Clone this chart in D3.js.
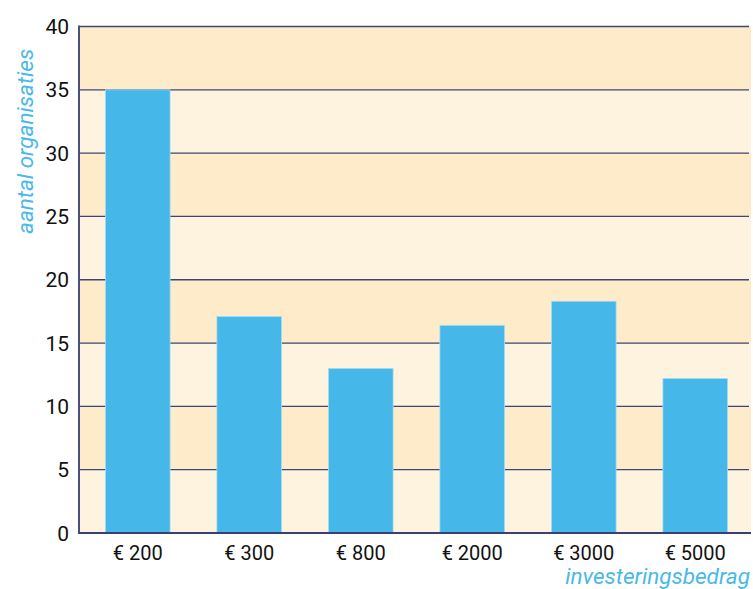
<!DOCTYPE html>
<html>
<head>
<meta charset="utf-8">
<script src="https://cdn.jsdelivr.net/npm/d3@7"></script>
<style>
  body { margin: 0; background: #fff; }
  text { font-family: Roboto, "Open Sans", sans-serif; }
</style>
</head>
<body>
<div id="chart"></div>
<script>
const categories = ['€ 200', '€ 300', '€ 800', '€ 2000', '€ 3000', '€ 5000']
const values = [35, 17.1, 13, 16.4, 18.3, 12.2]
const yTicks = [0, 5, 10, 15, 20, 25, 30, 35, 40]

const W = 753
const H = 589
const plotLeft = 79
const plotRight = 751
const plotTop = 26.5
const plotBottom = 533

const svg = d3.select('#chart')
  .append('svg')
  .attr('width', W)
  .attr('height', H)

const y = d3.scaleLinear().domain([0, 40]).range([plotBottom, plotTop])
const x = d3.scaleBand()
  .domain(categories)
  .range([82, plotRight])
  .paddingInner(0.42)
  .paddingOuter(0.21)

// alternating background bands
const bands = d3.pairs(yTicks)
svg.selectAll('.band')
  .data(bands)
  .enter()
  .append('rect')
  .attr('x', plotLeft)
  .attr('width', plotRight - plotLeft)
  .attr('y', d => y(d[1]))
  .attr('height', d => y(d[0]) - y(d[1]))
  .attr('fill', (d, i) => i % 2 === 0 ? '#fef3de' : '#fdebca')

// gridlines
svg.selectAll('.grid')
  .data(yTicks.filter(t => t > 0))
  .enter()
  .append('line')
  .attr('x1', plotLeft)
  .attr('x2', 749)
  .attr('y1', d => y(d))
  .attr('y2', d => y(d))
  .attr('stroke', '#3f4470')
  .attr('stroke-width', 1.3)

// bars
svg.selectAll('.bar')
  .data(categories)
  .enter()
  .append('rect')
  .attr('x', d => x(d))
  .attr('width', x.bandwidth())
  .attr('y', (d, i) => y(values[i]))
  .attr('height', (d, i) => plotBottom - y(values[i]))
  .attr('fill', '#45b7e9')
  .attr('stroke', '#a6dcf2')
  .attr('stroke-width', 0.8)

// axes lines
svg.append('line')
  .attr('x1', plotLeft).attr('x2', plotLeft)
  .attr('y1', plotTop - 1).attr('y2', plotBottom + 1)
  .attr('stroke', '#4a5080').attr('stroke-width', 2)
svg.append('line')
  .attr('x1', plotLeft).attr('x2', 751)
  .attr('y1', plotBottom).attr('y2', plotBottom)
  .attr('stroke', '#3a4070').attr('stroke-width', 2)

// y tick labels
svg.selectAll('.ytick')
  .data(yTicks)
  .enter()
  .append('text')
  .attr('x', 69)
  .attr('y', d => y(d))
  .attr('dy', '0.36em')
  .attr('text-anchor', 'end')
  .attr('font-size', 21)
  .attr('fill', '#111')
  .text(d => d)

// x tick labels
svg.selectAll('.xtick')
  .data(categories)
  .enter()
  .append('text')
  .attr('x', d => x(d) + x.bandwidth() / 2)
  .attr('y', 560)
  .attr('text-anchor', 'middle')
  .attr('font-size', 20)
  .attr('fill', '#111')
  .text(d => d)

// axis titles
svg.append('text')
  .attr('transform', 'translate(33,234) rotate(-90)')
  .attr('text-anchor', 'start')
  .attr('font-size', 22.5)
  .attr('font-style', 'italic')
  .attr('fill', '#4ab9e9')
  .text('aantal organisaties')

svg.append('text')
  .attr('x', 750)
  .attr('y', 584)
  .attr('text-anchor', 'end')
  .attr('font-size', 22.5)
  .attr('font-style', 'italic')
  .attr('fill', '#4ab9e9')
  .text('investeringsbedrag')
</script>
</body>
</html>
